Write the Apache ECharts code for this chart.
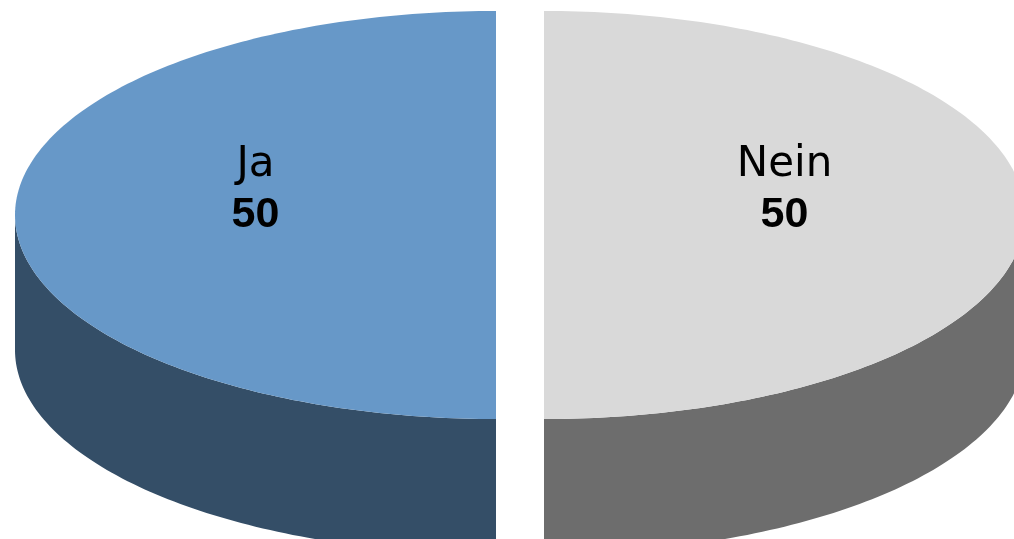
<!DOCTYPE html>
<html>
<head>
<meta charset="utf-8">
<script src="https://cdn.jsdelivr.net/npm/echarts@6/dist/echarts.min.js"></script>
<style>
  html, body { margin: 0; padding: 0; background: #ffffff; }
  #chart { width: 1014px; height: 539px; }
</style>
</head>
<body>
<div id="chart"></div>
<script>
// Survey answers
const categories = ['Ja', 'Nein'];
const values = [50, 50];
const topColors = ['#6798C8', '#D9D9D9'];
const sideColors = ['#344E67', '#6D6D6D'];

const chart = echarts.init(document.getElementById('chart'), null, { renderer: 'canvas' });

// Tilted-disc geometry (pixels)
const CX = 520, CY = 215;      // centre of the top face
const RX = 481, RY = 204;      // radii of the top ellipse
const DEPTH = 135;             // height of the rim
const EXPLODE = 24;            // slice pull-out distance
const START = 90;              // first slice starts at 6 o'clock, runs clockwise

function pt(cx, cy, deg, dy) {
  const r = deg * Math.PI / 180;
  return [cx + RX * Math.cos(r), cy + RY * Math.sin(r) + (dy || 0)];
}
function arc(cx, cy, a, b, dy) {
  const pts = [];
  const n = Math.max(2, Math.ceil(Math.abs(b - a)));
  for (let i = 0; i <= n; i++) pts.push(pt(cx, cy, a + (b - a) * i / n, dy));
  return pts;
}

function renderItem(params, api) {
  const i = params.dataIndex;
  const total = values.reduce((s, v) => s + v, 0);
  let before = 0;
  for (let k = 0; k < i; k++) before += values[k];
  const a = START + before / total * 360;
  const b = a + api.value(0) / total * 360;
  const midDeg = (a + b) / 2;
  const mid = midDeg * Math.PI / 180;
  const cx = CX + EXPLODE * Math.cos(mid);
  const cy = CY + EXPLODE * Math.sin(mid) * RY / RX;

  const children = [];
  // Outer rim: only the part facing the viewer (0..180 deg, repeated every 360)
  [[0, 180], [360, 540]].forEach(([f0, f1]) => {
    const s = Math.max(a, f0), e = Math.min(b, f1);
    if (e > s) {
      const pts = arc(cx, cy, s, e, 0).concat(arc(cx, cy, e, s, DEPTH));
      children.push({
        type: 'polygon',
        shape: { points: pts },
        style: { fill: sideColors[i], stroke: null }
      });
    }
  });
  // Top face
  children.push({
    type: 'polygon',
    shape: { points: [[cx, cy]].concat(arc(cx, cy, a, b, 0)) },
    style: { fill: topColors[i], stroke: null }
  });
  // Labels: category name and value
  const lx = cx + 0.5 * RX * Math.cos(mid);
  const ly = cy + 0.5 * RY * Math.sin(mid);
  children.push({
    type: 'text',
    style: {
      text: categories[i], x: lx, y: ly - 50,
      fill: '#000000', font: '42px "DejaVu Sans"',
      align: 'center', verticalAlign: 'middle'
    }
  });
  children.push({
    type: 'text',
    style: {
      text: String(api.value(0)), x: lx, y: ly,
      fill: '#000000', font: 'bold 43px "Liberation Sans"',
      align: 'center', verticalAlign: 'middle'
    }
  });
  return { type: 'group', children };
}

chart.setOption({
  animation: false,
  backgroundColor: '#ffffff',
  series: [{
    type: 'custom',
    coordinateSystem: 'none',
    renderItem: renderItem,
    data: values.map((v, i) => ({ name: categories[i], value: v }))
  }]
});
</script>
</body>
</html>
